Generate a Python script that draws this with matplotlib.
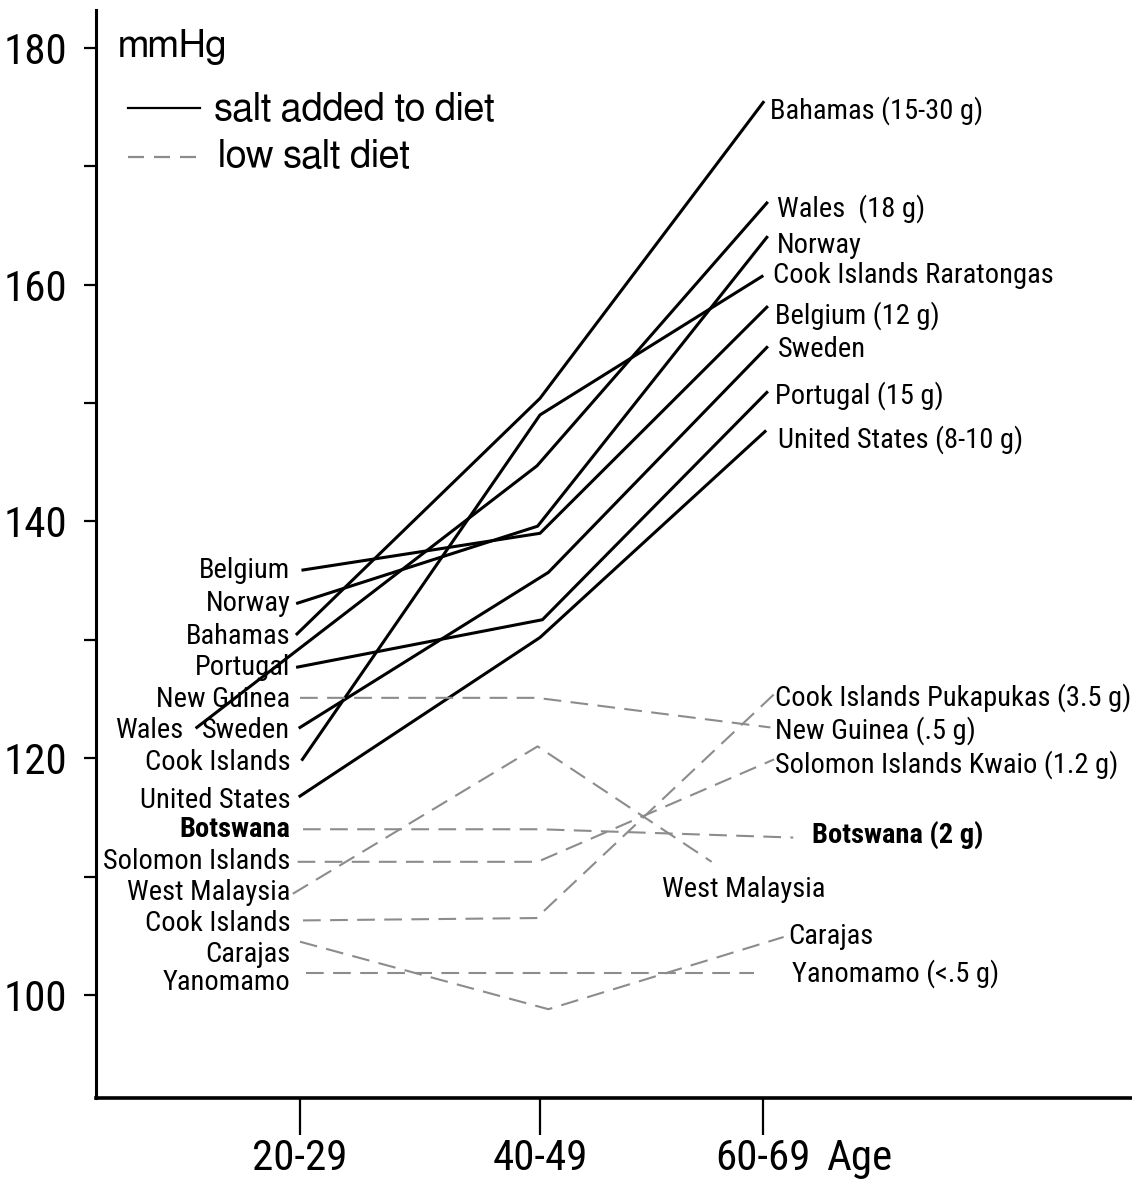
import matplotlib.pyplot as plt
from matplotlib.ticker import FixedLocator, NullFormatter

plt.rcParams['font.family'] = ['Roboto Condensed', 'Liberation Sans', 'DejaVu Sans']

# age groups on the x axis (in years, as drawn)
age_ticks = [25, 45, 63.6]
age_labels = ['20-29', '40-49', '60-69']

# salt added to diet: x (age) and mmHg per country
salt_names = ['Belgium', 'Norway', 'Bahamas', 'Portugal', 'Wales', 'Sweden',
              'Cook Islands Raratongas', 'United States']
salt_x = [
    [25.25, 45.0, 63.9],
    [24.8, 44.8, 63.9],
    [24.75, 45.0, 63.6],
    [24.8, 45.2, 63.9],
    [16.4, 44.75, 63.9],
    [25.0, 45.7, 63.9],
    [25.2, 45.0, 63.5],
    [25.0, 45.0, 63.75],
]
salt_y = [
    [135.9, 139.0, 158.1],
    [133.1, 139.6, 164.0],
    [130.5, 150.4, 175.4],
    [127.7, 131.7, 150.9],
    [122.6, 144.7, 166.9],
    [122.6, 135.7, 154.7],
    [119.9, 149.0, 160.7],
    [116.8, 130.2, 147.6],
]

# low salt diet
low_names = ['New Guinea', 'West Malaysia', 'Botswana', 'Solomon Islands Kwaio',
             'Cook Islands Pukapukas', 'Carajas', 'Yanomamo']
low_x = [
    [25.0, 44.75, 64.2],
    [24.4, 44.8, 59.3],
    [25.25, 45.0, 66.1],
    [24.8, 44.8, 64.5],
    [25.25, 44.7, 64.5],
    [25.0, 45.7, 65.3],
    [25.5, 45.0, 62.8],
]
low_y = [
    [125.1, 125.1, 122.6],
    [108.55, 121.0, 111.25],
    [114.0, 114.0, 113.3],
    [111.25, 111.25, 119.9],
    [106.3, 106.5, 125.4],
    [104.5, 98.8, 104.9],
    [101.9, 101.9, 101.9],
]

# labels on the left (20-29 end) and right (60-69 end)
left_labels = ['Belgium', 'Norway', 'Bahamas', 'Portugal', 'New Guinea', 'Wales', 'Sweden',
               'Cook Islands', 'United States', 'Botswana', 'Solomon Islands',
               'West Malaysia', 'Cook Islands', 'Carajas', 'Yanomamo']
left_label_x = [24.2, 24.2, 24.2, 24.2, 24.2, 15.3, 24.2, 24.2, 24.2, 24.2, 24.2,
                24.2, 24.2, 24.2, 24.2]
left_label_y = [136.1, 133.3, 130.5, 127.9, 125.2, 122.6, 122.6, 119.9, 116.7, 114.2,
                111.5, 108.9, 106.3, 103.7, 101.3]

right_labels = ['Bahamas (15-30 g)', 'Wales  (18 g)', 'Norway', 'Cook Islands Raratongas',
                'Belgium (12 g)', 'Sweden', 'Portugal (15 g)', 'United States (8-10 g)',
                'Cook Islands Pukapukas (3.5 g)', 'New Guinea (.5 g)',
                'Solomon Islands Kwaio (1.2 g)', 'Botswana (2 g)', 'West Malaysia',
                'Carajas', 'Yanomamo (<.5 g)']
right_label_x = [64.2, 64.75, 64.75, 64.4, 64.6, 64.8, 64.6, 64.8, 64.6, 64.6, 64.6,
                 67.7, 55.2, 65.7, 66.0]
right_label_y = [175.0, 166.7, 163.6, 161.0, 157.7, 154.8, 150.9, 147.2, 125.4, 122.6,
                 119.7, 113.8, 109.2, 105.2, 102.1]

gray = '#8c8c8c'
lab_size = 20.5

fig = plt.figure(figsize=(11.32, 11.80), dpi=100)
ax = fig.add_axes([0.0848, 0.0695, 0.9152, 0.922])

for xs, ys in zip(salt_x, salt_y):
    ax.plot(xs, ys, color='black', lw=2.2, solid_joinstyle='miter')
for xs, ys in zip(low_x, low_y):
    ax.plot(xs, ys, color=gray, lw=1.5, dashes=(8.5, 4.5))

for txt, x, y in zip(left_labels, left_label_x, left_label_y):
    w = 'bold' if txt == 'Botswana' else 'normal'
    ax.text(x, y, txt, ha='right', va='center_baseline', fontsize=lab_size, fontweight=w)
for txt, x, y in zip(right_labels, right_label_x, right_label_y):
    w = 'bold' if txt.startswith('Botswana') else 'normal'
    ax.text(x, y, txt, ha='left', va='center_baseline', fontsize=lab_size, fontweight=w)

# unit and legend (plain helvetica-like face)
leg_font = ['FreeSans', 'Liberation Sans']
ax.text(9.8, 179.2, 'mmHg', ha='left', va='baseline', fontsize=27.5, family=leg_font)
ax.plot([10.7, 16.7], [174.9, 174.9], color='black', lw=1.6)
ax.text(17.8, 173.9, 'salt added to diet', ha='left', va='baseline', fontsize=27.5,
        family=leg_font)
ax.plot([10.7, 16.7], [170.8, 170.8], color=gray, lw=1.6, dashes=(7.2, 4.5))
ax.text(18.2, 169.9, 'low salt diet', ha='left', va='baseline', fontsize=27.5,
        family=leg_font)

ax.set_xlim(8.0, 94.33)
ax.set_ylim(91.3, 183.2)

for s in ['top', 'right']:
    ax.spines[s].set_visible(False)
ax.spines['left'].set_linewidth(2.2)
ax.spines['bottom'].set_linewidth(2.6)

ax.set_xticks(age_ticks)
ax.set_xticklabels(age_labels)
ax.tick_params(axis='x', direction='out', length=26.5, width=1.6, pad=2, labelsize=31)
ax.annotate('Age', xy=(age_ticks[2], 0), xycoords=('data', 'axes fraction'),
            xytext=(45, -28.5), textcoords='offset points', ha='left', va='top',
            fontsize=31)

ax.set_yticks([100, 120, 140, 160, 180])
ax.yaxis.set_minor_locator(FixedLocator([110, 130, 150, 170]))
ax.yaxis.set_minor_formatter(NullFormatter())
ax.tick_params(axis='y', which='both', direction='out', length=8.5, width=1.6, pad=12,
               labelsize=31)

plt.savefig('out.png', dpi=100)
